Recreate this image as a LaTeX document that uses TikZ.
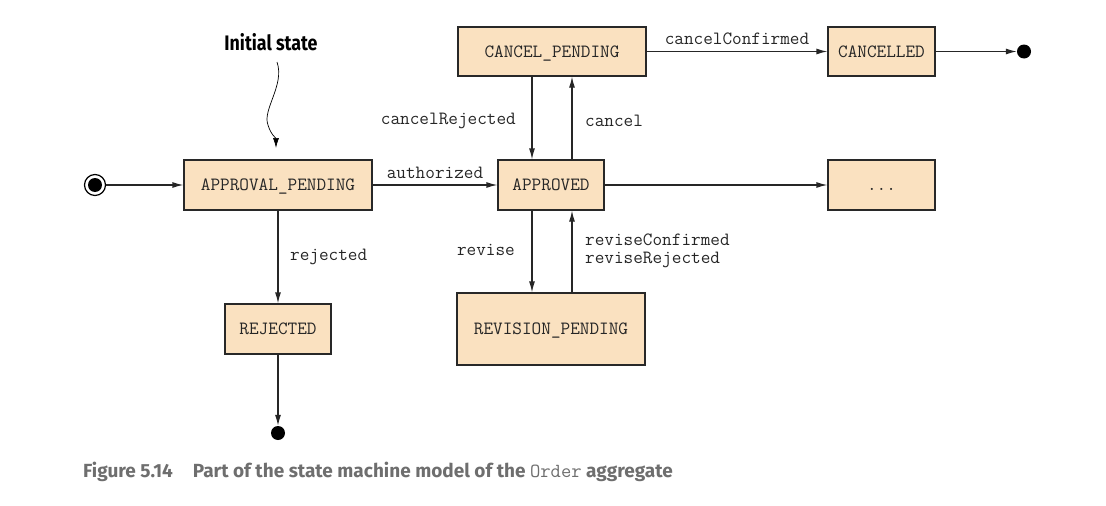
\documentclass[tikz,border=0pt]{standalone}
\usepackage{fontspec}
\setmainfont{Fira Sans}
\usetikzlibrary{arrows.meta}
\definecolor{boxfill}{RGB}{250,225,192}
\definecolor{boxline}{RGB}{40,40,40}
\definecolor{capgray}{RGB}{110,110,110}
\begin{document}
\begin{tikzpicture}[x=1pt,y=-1pt,
  state/.style={draw=boxline,fill=boxfill,line width=1.2pt,inner sep=0pt,
    text height=11.5pt,text depth=0pt,
    font=\fontsize{18.7}{22}\ttfamily,text=black!85},
  arr/.style={line width=1.2pt,draw=black!85,-{Latex[length=11pt,width=6pt]}},
  lbl/.style={font=\fontsize{18.7}{22}\ttfamily,text=black!85,inner sep=0pt},
  dot/.style={circle,fill=black,inner sep=0pt,minimum size=14pt}]
\useasboundingbox (0,0) rectangle (1106,506);

\node[state,minimum width=188pt,minimum height=50pt] (ap) at (278,185) {APPROVAL\_PENDING};
\node[state,minimum width=106pt,minimum height=50pt] (rej) at (278,329) {REJECTED};
\node[state,minimum width=106pt,minimum height=50pt] (appr) at (551,185) {APPROVED};
\node[state,minimum width=188pt,minimum height=49pt] (cp) at (552,51.5) {CANCEL\_PENDING};
\node[state,minimum width=107pt,minimum height=49pt] (can) at (881.5,51.5) {CANCELLED};
\node[state,minimum width=107pt,minimum height=50pt] (more) at (881.5,185) {...};
\node[state,minimum width=188pt,minimum height=72pt] (rp) at (551,329) {REVISION\_PENDING};

\node[circle,draw=black,line width=1.2pt,minimum size=21pt,inner sep=0pt] (init) at (95,185) {};
\node[dot,minimum size=14pt] at (init) {};
\node[dot] (endc) at (1024,51.5) {};
\node[dot] (endr) at (278,433) {};

\draw[arr] (init) -- (ap);
\draw[arr] (ap) -- node[lbl,above=6pt] {authorized} (appr);
\draw[arr] (ap) -- (rej);
\node[lbl,anchor=west] (lrej) at (290,257) {rejected};
\draw[arr] (rej) -- (endr);

\draw[arr] ([xshift=-20pt]cp.south) -- ([xshift=-19pt]appr.north);
\node[lbl,anchor=east] (lcr) at (516,121) {cancelRejected};
\draw[arr] ([xshift=21pt]appr.north) -- ([xshift=20pt]cp.south);
\node[lbl,anchor=west] (lc) at (585,121) {cancel};

\draw[arr] (cp) -- node[lbl,above=6pt] {cancelConfirmed} (can);
\draw[arr] (can) -- (endc);
\draw[arr] (appr) -- (more);

\draw[arr] ([xshift=-19pt]appr.south) -- ([xshift=-19pt]rp.north);
\node[lbl,anchor=east] (lrv) at (515,250) {revise};
\draw[arr] ([xshift=21pt]rp.north) -- ([xshift=21pt]appr.south);
\node[lbl,anchor=west] (lrc) at (585,240) {reviseConfirmed};
\node[lbl,anchor=west] (lrr) at (585,260) {reviseRejected};

\node[font=\fontsize{21}{24}\selectfont\bfseries,inner sep=0pt,text=black] (is) at (271,42) {\scalebox{0.85}[1]{Initial state}};
\coordinate (wtop) at (277,62);
\coordinate (wend) at (276,148);
\draw[line width=0.7pt,-{Latex[length=10pt,width=6pt]}] (wtop) .. controls (285,85) and (262,110) .. (268,125) .. controls (271,135) and (276,138) .. (wend);

\node[anchor=west,inner sep=0pt,text=capgray,font=\fontsize{19}{22}\selectfont\bfseries] (cap) at (83,472)
  {Figure 5.14\hspace{20pt}Part of the state machine model of the {\mdseries\ttfamily\fontsize{20}{22}\selectfont Order} aggregate};
\end{tikzpicture}
\end{document}
